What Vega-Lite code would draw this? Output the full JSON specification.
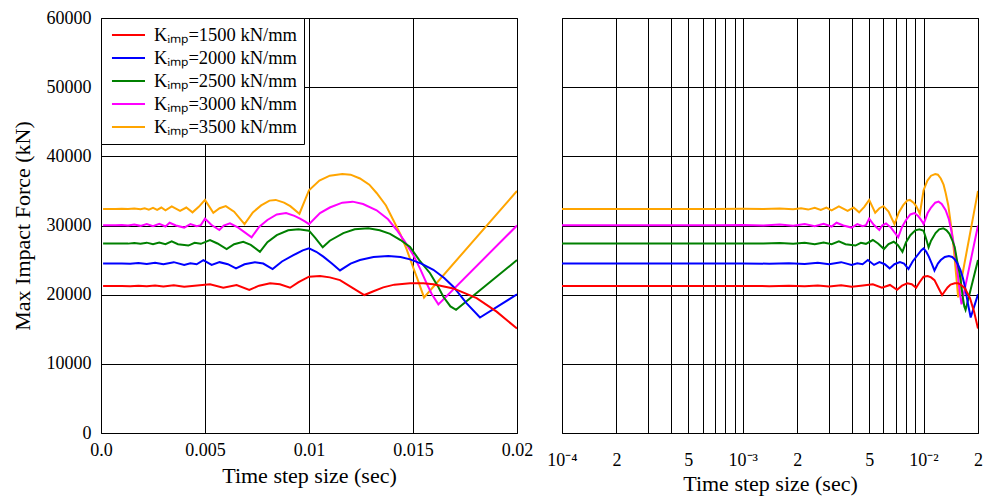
{
"$schema": "https://vega.github.io/schema/vega-lite/v6.json",
"background": "white",
"padding": {"left": 10, "top": 8, "right": 4, "bottom": 2},
"config": {
  "font": "Liberation Serif",
  "view": {"stroke": "black", "strokeWidth": 1},
  "axis": {"gridColor": "black", "gridOpacity": 1, "gridWidth": 1, "domain": false, "ticks": false, "labelFontSize": 18, "labelColor": "black", "titleFontSize": 22, "titleFontWeight": "normal", "titleColor": "black", "labelFont": "Liberation Serif", "titleFont": "Liberation Serif", "labelOverlap": false}
},
"datasets": {"d": [
{"k":"3500","t":0.0001,"f":32400},{"k":"3500","t":0.0002,"f":32400},{"k":"3500","t":0.0004,"f":32400},{"k":"3500","t":0.0007,"f":32400},{"k":"3500","t":0.001,"f":32420},{"k":"3500","t":0.0013,"f":32380},{"k":"3500","t":0.0016,"f":32460},{"k":"3500","t":0.0019,"f":32340},{"k":"3500","t":0.0021,"f":32500},{"k":"3500","t":0.0023,"f":32300},{"k":"3500","t":0.0025,"f":32550},{"k":"3500","t":0.0027,"f":32250},{"k":"3500","t":0.0029,"f":32600},{"k":"3500","t":0.0031,"f":32200},{"k":"3500","t":0.0034,"f":32750},{"k":"3500","t":0.0038,"f":32100},{"k":"3500","t":0.0041,"f":32600},{"k":"3500","t":0.0044,"f":31900},{"k":"3500","t":0.0047,"f":32700},{"k":"3500","t":0.005,"f":33700},{"k":"3500","t":0.0054,"f":31850},{"k":"3500","t":0.0057,"f":32500},{"k":"3500","t":0.006,"f":32800},{"k":"3500","t":0.0064,"f":32000},{"k":"3500","t":0.0069,"f":30200},{"k":"3500","t":0.0073,"f":31900},{"k":"3500","t":0.0077,"f":32900},{"k":"3500","t":0.0081,"f":33600},{"k":"3500","t":0.0084,"f":33700},{"k":"3500","t":0.0088,"f":33300},{"k":"3500","t":0.0091,"f":32800},{"k":"3500","t":0.00954,"f":31700},{"k":"3500","t":0.01,"f":35100},{"k":"3500","t":0.0105,"f":36500},{"k":"3500","t":0.011,"f":37200},{"k":"3500","t":0.0116,"f":37450},{"k":"3500","t":0.012,"f":37350},{"k":"3500","t":0.01245,"f":36800},{"k":"3500","t":0.0129,"f":35900},{"k":"3500","t":0.01325,"f":34700},{"k":"3500","t":0.0137,"f":32900},{"k":"3500","t":0.01405,"f":30800},{"k":"3500","t":0.0144,"f":28700},{"k":"3500","t":0.0147,"f":26500},{"k":"3500","t":0.015,"f":24000},{"k":"3500","t":0.0152,"f":22400},{"k":"3500","t":0.01553,"f":19600},{"k":"3500","t":0.02,"f":35000},
{"k":"3000","t":0.0001,"f":30050},{"k":"3000","t":0.0002,"f":30050},{"k":"3000","t":0.0004,"f":30050},{"k":"3000","t":0.0007,"f":30050},{"k":"3000","t":0.001,"f":30060},{"k":"3000","t":0.0013,"f":30000},{"k":"3000","t":0.0016,"f":30150},{"k":"3000","t":0.0019,"f":29950},{"k":"3000","t":0.0022,"f":30200},{"k":"3000","t":0.0025,"f":29900},{"k":"3000","t":0.0028,"f":30250},{"k":"3000","t":0.0031,"f":29850},{"k":"3000","t":0.0033,"f":30400},{"k":"3000","t":0.0036,"f":30000},{"k":"3000","t":0.004,"f":29700},{"k":"3000","t":0.0043,"f":30200},{"k":"3000","t":0.0046,"f":29900},{"k":"3000","t":0.0048,"f":30050},{"k":"3000","t":0.005,"f":31000},{"k":"3000","t":0.0053,"f":30100},{"k":"3000","t":0.00569,"f":29350},{"k":"3000","t":0.0059,"f":30000},{"k":"3000","t":0.0062,"f":30300},{"k":"3000","t":0.0066,"f":29700},{"k":"3000","t":0.00724,"f":28300},{"k":"3000","t":0.0076,"f":29800},{"k":"3000","t":0.008,"f":30800},{"k":"3000","t":0.00845,"f":31600},{"k":"3000","t":0.0089,"f":31800},{"k":"3000","t":0.0093,"f":31400},{"k":"3000","t":0.00957,"f":31000},{"k":"3000","t":0.0098,"f":30600},{"k":"3000","t":0.01,"f":30200},{"k":"3000","t":0.01053,"f":31800},{"k":"3000","t":0.011,"f":32600},{"k":"3000","t":0.0116,"f":33300},{"k":"3000","t":0.0121,"f":33450},{"k":"3000","t":0.0126,"f":33100},{"k":"3000","t":0.01325,"f":32200},{"k":"3000","t":0.0138,"f":30900},{"k":"3000","t":0.01422,"f":29350},{"k":"3000","t":0.0146,"f":27700},{"k":"3000","t":0.01502,"f":25700},{"k":"3000","t":0.01535,"f":23700},{"k":"3000","t":0.01566,"f":21600},{"k":"3000","t":0.0159,"f":20100},{"k":"3000","t":0.01622,"f":18600},{"k":"3000","t":0.02,"f":30000},
{"k":"2500","t":0.0001,"f":27400},{"k":"2500","t":0.0002,"f":27400},{"k":"2500","t":0.0004,"f":27400},{"k":"2500","t":0.0007,"f":27400},{"k":"2500","t":0.001,"f":27410},{"k":"2500","t":0.0013,"f":27380},{"k":"2500","t":0.0016,"f":27480},{"k":"2500","t":0.0019,"f":27350},{"k":"2500","t":0.0022,"f":27520},{"k":"2500","t":0.0025,"f":27300},{"k":"2500","t":0.0028,"f":27550},{"k":"2500","t":0.0031,"f":27300},{"k":"2500","t":0.0034,"f":27700},{"k":"2500","t":0.0037,"f":27300},{"k":"2500","t":0.0042,"f":27100},{"k":"2500","t":0.0045,"f":27500},{"k":"2500","t":0.0048,"f":27350},{"k":"2500","t":0.00524,"f":27900},{"k":"2500","t":0.0056,"f":27400},{"k":"2500","t":0.00604,"f":26600},{"k":"2500","t":0.0064,"f":27300},{"k":"2500","t":0.00684,"f":27650},{"k":"2500","t":0.0072,"f":27200},{"k":"2500","t":0.00764,"f":26200},{"k":"2500","t":0.008,"f":27600},{"k":"2500","t":0.00845,"f":28600},{"k":"2500","t":0.009,"f":29300},{"k":"2500","t":0.0095,"f":29450},{"k":"2500","t":0.01,"f":29250},{"k":"2500","t":0.0103,"f":28200},{"k":"2500","t":0.01066,"f":26850},{"k":"2500","t":0.011,"f":27800},{"k":"2500","t":0.01165,"f":28900},{"k":"2500","t":0.0122,"f":29450},{"k":"2500","t":0.01285,"f":29600},{"k":"2500","t":0.0134,"f":29300},{"k":"2500","t":0.0139,"f":28800},{"k":"2500","t":0.0144,"f":27900},{"k":"2500","t":0.01486,"f":26900},{"k":"2500","t":0.0153,"f":25000},{"k":"2500","t":0.01582,"f":23100},{"k":"2500","t":0.0162,"f":21200},{"k":"2500","t":0.01646,"f":19700},{"k":"2500","t":0.0168,"f":18300},{"k":"2500","t":0.01707,"f":17800},{"k":"2500","t":0.02,"f":25000},
{"k":"2000","t":0.0001,"f":24500},{"k":"2000","t":0.0002,"f":24500},{"k":"2000","t":0.0004,"f":24500},{"k":"2000","t":0.0007,"f":24500},{"k":"2000","t":0.001,"f":24510},{"k":"2000","t":0.0014,"f":24480},{"k":"2000","t":0.0018,"f":24560},{"k":"2000","t":0.0022,"f":24450},{"k":"2000","t":0.0026,"f":24600},{"k":"2000","t":0.003,"f":24400},{"k":"2000","t":0.0035,"f":24700},{"k":"2000","t":0.004,"f":24300},{"k":"2000","t":0.0043,"f":24550},{"k":"2000","t":0.0046,"f":24400},{"k":"2000","t":0.00492,"f":25000},{"k":"2000","t":0.00532,"f":24300},{"k":"2000","t":0.0057,"f":24700},{"k":"2000","t":0.0061,"f":24400},{"k":"2000","t":0.00649,"f":23800},{"k":"2000","t":0.0069,"f":24400},{"k":"2000","t":0.0074,"f":24700},{"k":"2000","t":0.0078,"f":24500},{"k":"2000","t":0.00825,"f":23700},{"k":"2000","t":0.0087,"f":24800},{"k":"2000","t":0.00925,"f":25700},{"k":"2000","t":0.0097,"f":26400},{"k":"2000","t":0.01,"f":26700},{"k":"2000","t":0.01035,"f":26200},{"k":"2000","t":0.01069,"f":25500},{"k":"2000","t":0.0111,"f":24500},{"k":"2000","t":0.01149,"f":23500},{"k":"2000","t":0.012,"f":24500},{"k":"2000","t":0.01245,"f":25000},{"k":"2000","t":0.0131,"f":25450},{"k":"2000","t":0.01381,"f":25600},{"k":"2000","t":0.0144,"f":25450},{"k":"2000","t":0.01486,"f":25100},{"k":"2000","t":0.0154,"f":24500},{"k":"2000","t":0.01598,"f":23600},{"k":"2000","t":0.0165,"f":22400},{"k":"2000","t":0.01694,"f":21150},{"k":"2000","t":0.01758,"f":18750},{"k":"2000","t":0.01822,"f":16700},{"k":"2000","t":0.02,"f":20050},
{"k":"1500","t":0.0001,"f":21250},{"k":"1500","t":0.0002,"f":21250},{"k":"1500","t":0.0004,"f":21250},{"k":"1500","t":0.0007,"f":21250},{"k":"1500","t":0.001,"f":21260},{"k":"1500","t":0.0014,"f":21230},{"k":"1500","t":0.0018,"f":21300},{"k":"1500","t":0.0022,"f":21200},{"k":"1500","t":0.0026,"f":21330},{"k":"1500","t":0.003,"f":21180},{"k":"1500","t":0.0035,"f":21350},{"k":"1500","t":0.004,"f":21150},{"k":"1500","t":0.0045,"f":21300},{"k":"1500","t":0.00524,"f":21500},{"k":"1500","t":0.00588,"f":21000},{"k":"1500","t":0.00652,"f":21400},{"k":"1500","t":0.00713,"f":20700},{"k":"1500","t":0.0076,"f":21300},{"k":"1500","t":0.00813,"f":21650},{"k":"1500","t":0.0086,"f":21500},{"k":"1500","t":0.00909,"f":21000},{"k":"1500","t":0.0095,"f":21800},{"k":"1500","t":0.01,"f":22600},{"k":"1500","t":0.01053,"f":22700},{"k":"1500","t":0.011,"f":22500},{"k":"1500","t":0.01149,"f":22100},{"k":"1500","t":0.01213,"f":20900},{"k":"1500","t":0.01266,"f":19950},{"k":"1500","t":0.0131,"f":20500},{"k":"1500","t":0.01357,"f":21050},{"k":"1500","t":0.0141,"f":21450},{"k":"1500","t":0.01486,"f":21650},{"k":"1500","t":0.0155,"f":21650},{"k":"1500","t":0.01598,"f":21500},{"k":"1500","t":0.01694,"f":20900},{"k":"1500","t":0.01806,"f":19500},{"k":"1500","t":0.01902,"f":17550},{"k":"1500","t":0.02,"f":15100}
]},
"spacing": 12,
"resolve": {"legend": {"color": "independent"}},
"hconcat": [
 {
  "width": 416, "height": 415,
  "data": {"name": "d"},
  "mark": {"type": "line", "strokeWidth": 2, "clip": true},
  "encoding": {
   "x": {"field": "t", "type": "quantitative", "scale": {"domain": [0, 0.02], "nice": false, "zero": false},
         "axis": {"values": [0, 0.005, 0.01, 0.015, 0.02], "labelExpr": "datum.value == 0 ? '0.0' : format(datum.value, '~g')", "labelFlush": false, "labelPadding": 8, "titlePadding": 6, "title": "Time step size (sec)"}},
   "y": {"field": "f", "type": "quantitative", "scale": {"domain": [0, 60000], "nice": false},
         "axis": {"values": [0, 10000, 20000, 30000, 40000, 50000, 60000], "format": "d", "labelPadding": 10, "titlePadding": 12, "title": "Max Impact Force (kN)"}},
   "color": {"field": "k", "type": "nominal",
     "scale": {"domain": ["1500", "2000", "2500", "3000", "3500"], "range": ["#ff0000", "#0000ff", "#008000", "#ff00ff", "#ffa500"]},
     "legend": {"orient": "none", "legendX": 0, "legendY": 0, "title": null, "fillColor": "white", "strokeColor": "black", "padding": 7, "symbolType": "M-0.67,0H3", "symbolSize": 324, "symbolStrokeWidth": 2, "labelFontSize": 18.5, "labelFont": "Liberation Serif", "labelColor": "black", "rowPadding": 3, "labelOffset": 26, "labelLimit": 400, "labelExpr": "'Kᵢₘₚ=' + datum.label + ' kN/mm'"}}
  }
 },
 {
  "width": 416, "height": 415,
  "data": {"name": "d"},
  "mark": {"type": "line", "strokeWidth": 2, "clip": true},
  "encoding": {
   "x": {"field": "t", "type": "quantitative", "scale": {"type": "log", "domain": [0.0001, 0.02], "nice": false},
         "axis": {"values": [0.0001, 0.0002, 0.0003, 0.0004, 0.0005, 0.0006, 0.0007, 0.0008, 0.0009, 0.001, 0.002, 0.003, 0.004, 0.005, 0.006, 0.007, 0.008, 0.009, 0.01, 0.02],
                  "labelExpr": "indexof([0.0002, 0.002, 0.02], datum.value) >= 0 ? '2' : indexof([0.0005, 0.005], datum.value) >= 0 ? '5' : datum.value == 0.0001 ? '10⁻⁴' : datum.value == 0.001 ? '10⁻³' : datum.value == 0.01 ? '10⁻²' : ''",
                  "labelFlush": false, "labelPadding": 18, "titlePadding": 4, "title": "Time step size (sec)"}},
   "y": {"field": "f", "type": "quantitative", "scale": {"domain": [0, 60000], "nice": false},
         "axis": {"values": [0, 10000, 20000, 30000, 40000, 50000, 60000], "labels": false, "title": null, "minExtent": 0, "maxExtent": 0, "labelPadding": 0}},
   "color": {"field": "k", "type": "nominal", "legend": null}
  }
 }
]
}
